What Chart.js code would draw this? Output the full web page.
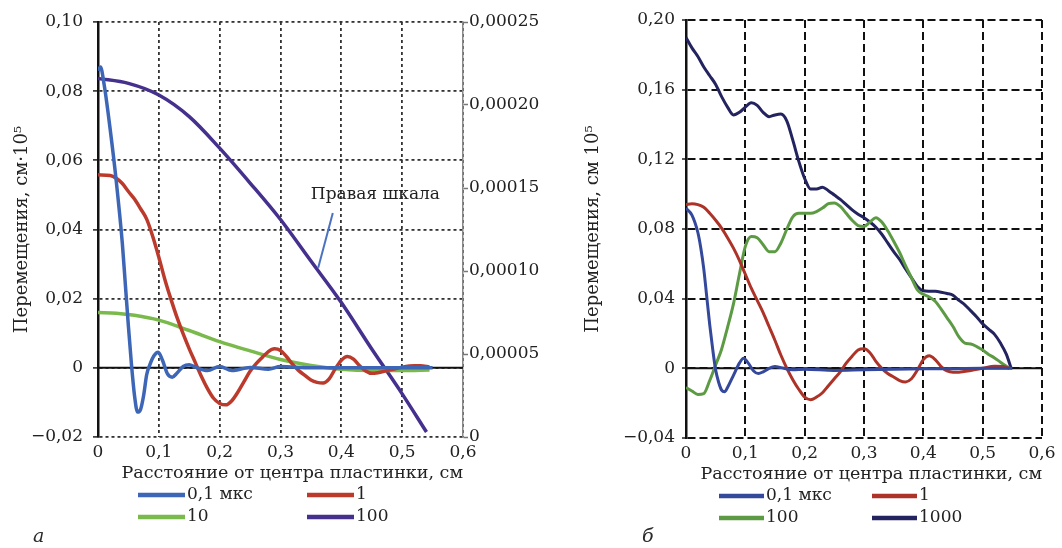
<!DOCTYPE html>
<html lang="ru">
<head>
<meta charset="utf-8">
<title>Перемещения</title>
<script src="https://cdn.jsdelivr.net/npm/chart.js@4.4.1/dist/chart.umd.min.js"></script>
<style>
  html, body { margin: 0; padding: 0; background: #fff; overflow: hidden; }
  #wrap { position: relative; width: 1062px; height: 548px; }
  canvas { position: absolute; top: 0; }
  #chartA { left: 0; }
  #chartB { left: 560px; }
  .tag { position: absolute; top: 524px; font: italic 19px 'DejaVu Serif', serif; color: #2a2a2a; }
</style>
</head>
<body>
<div id="wrap">
  <canvas id="chartA" width="540" height="548"></canvas>
  <canvas id="chartB" width="502" height="548"></canvas>
  <div class="tag" style="left:33px">а</div>
  <div class="tag" style="left:642px">б</div>
</div>
<script>
// ---------- shared text ----------
const xAxisTitle = 'Расстояние от центра пластинки, см';
const yTitleA = 'Перемещения, см·10⁵';
const yTitleB = 'Перемещения, см 10⁵';
const noteText = 'Правая шкала';

// ---------- panel а: displacement vs distance ----------
const labelsA = ['0,1 мкс', '1', '10', '100'];

const xA01 = [0, 0.004, 0.01, 0.02, 0.03, 0.04, 0.045, 0.05, 0.055, 0.06, 0.065, 0.07, 0.075, 0.08, 0.085, 0.092, 0.099, 0.106, 0.114, 0.122, 0.13, 0.14, 0.15, 0.16, 0.18, 0.2, 0.22, 0.25, 0.28, 0.3, 0.35, 0.4, 0.45, 0.5, 0.55];
const yA01 = [0.086, 0.087, 0.082, 0.069, 0.054, 0.036, 0.024, 0.012, 0.001, -0.008, -0.0128, -0.012, -0.008, -0.002, 0.0008, 0.0035, 0.0045, 0.0022, -0.0017, -0.0027, -0.0015, 0.0004, 0.0009, 0.0002, -0.0008, 0.0004, -0.0008, 0.0001, -0.0004, 0.0004, 0, 0, 0, 0, 0];

const xA1 = [0, 0.02, 0.03, 0.04, 0.05, 0.06, 0.07, 0.08, 0.09, 0.1, 0.11, 0.12, 0.13, 0.14, 0.15, 0.16, 0.17, 0.18, 0.19, 0.2, 0.21, 0.22, 0.23, 0.24, 0.25, 0.26, 0.27, 0.28, 0.29, 0.3, 0.31, 0.32, 0.33, 0.34, 0.35, 0.36, 0.37, 0.38, 0.39, 0.4, 0.41, 0.42, 0.43, 0.44, 0.45, 0.46, 0.48, 0.5, 0.52, 0.53, 0.545];
const yA1 = [0.0558, 0.0556, 0.0548, 0.0533, 0.051, 0.0488, 0.046, 0.043, 0.038, 0.032, 0.0255, 0.0198, 0.0145, 0.0098, 0.0055, 0.0015, -0.0025, -0.006, -0.0088, -0.0103, -0.0107, -0.0095, -0.007, -0.004, -0.001, 0.0012, 0.003, 0.0047, 0.0055, 0.005, 0.0032, 0.001, -0.0008, -0.0022, -0.0035, -0.0042, -0.0044, -0.0032, -0.0003, 0.0022, 0.0033, 0.0025, 0.0006, -0.0009, -0.0016, -0.0014, -0.0006, 0.0002, 0.0006, 0.0006, 0.0002];

const xA10 = [0, 0.03, 0.06, 0.1, 0.15, 0.2, 0.25, 0.3, 0.35, 0.4, 0.45, 0.5, 0.545];
const yA10 = [0.016, 0.0158, 0.0152, 0.0138, 0.0108, 0.0076, 0.0049, 0.0024, 0.0007, -0.0004, -0.0008, -0.0008, -0.0006];

// 100 мкс is plotted against the right-hand axis
const xA100 = [0, 0.05, 0.1, 0.15, 0.2, 0.25, 0.3, 0.35, 0.4, 0.45, 0.5, 0.54];
const yA100 = [0.000216, 0.000213, 0.000206, 0.000193, 0.000174, 0.000153, 0.000131, 0.000106, 0.000081, 0.000053, 0.000026, 0.000003];

// leader for the right-axis note, in (x, right-axis) units
const notePos = { x: 0.456, y: 0.000146 };
const noteLeader = [[0.386, 0.000135], [0.362, 0.000102]];

// ---------- panel б ----------
const labelsB = ['0,1 мкс', '1', '100', '1000'];

const xB01 = [0, 0.01, 0.02, 0.025, 0.03, 0.035, 0.04, 0.045, 0.05, 0.055, 0.06, 0.065, 0.07, 0.08, 0.09, 0.097, 0.105, 0.114, 0.122, 0.13, 0.14, 0.15, 0.16, 0.18, 0.2, 0.25, 0.3, 0.35, 0.4, 0.45, 0.5, 0.55];
const yB01 = [0.092, 0.088, 0.078, 0.069, 0.057, 0.041, 0.025, 0.011, -0.001, -0.008, -0.0125, -0.0135, -0.011, -0.004, 0.003, 0.0058, 0.003, -0.0015, -0.003, -0.002, 0, 0.001, 0.0004, -0.0008, -0.0005, -0.0012, -0.0008, -0.0005, -0.0003, -0.0002, 0, 0];

const xB1 = [0, 0.01, 0.02, 0.03, 0.04, 0.05, 0.06, 0.07, 0.08, 0.09, 0.1, 0.11, 0.12, 0.13, 0.14, 0.15, 0.16, 0.17, 0.18, 0.19, 0.2, 0.21, 0.22, 0.23, 0.24, 0.25, 0.26, 0.27, 0.28, 0.29, 0.3, 0.31, 0.32, 0.33, 0.34, 0.35, 0.36, 0.37, 0.38, 0.39, 0.4, 0.41, 0.42, 0.43, 0.44, 0.45, 0.46, 0.48, 0.5, 0.52, 0.535, 0.545];
const yB1 = [0.094, 0.0945, 0.094, 0.0925, 0.089, 0.085, 0.0805, 0.075, 0.069, 0.062, 0.054, 0.046, 0.039, 0.032, 0.024, 0.016, 0.0075, 0.0, -0.0065, -0.012, -0.0165, -0.018, -0.0165, -0.014, -0.010, -0.006, -0.002, 0.003, 0.007, 0.0105, 0.0112, 0.009, 0.004, 0.0, -0.003, -0.005, -0.007, -0.0078, -0.006, -0.001, 0.005, 0.0072, 0.005, 0.001, -0.0015, -0.0022, -0.0022, -0.0012, 0.0, 0.0012, 0.001, 0.0];

const xB100 = [0, 0.01, 0.02, 0.03, 0.04, 0.05, 0.06, 0.07, 0.08, 0.09, 0.1, 0.11, 0.12, 0.13, 0.14, 0.15, 0.16, 0.17, 0.18, 0.19, 0.2, 0.21, 0.22, 0.23, 0.24, 0.25, 0.26, 0.27, 0.28, 0.29, 0.3, 0.31, 0.32, 0.33, 0.34, 0.35, 0.36, 0.37, 0.38, 0.39, 0.4, 0.41, 0.42, 0.43, 0.44, 0.45, 0.46, 0.47, 0.48, 0.49, 0.5, 0.51, 0.52, 0.53, 0.545];
const yB100 = [-0.011, -0.013, -0.015, -0.0145, -0.007, 0.002, 0.011, 0.0235, 0.037, 0.054, 0.07, 0.0757, 0.075, 0.071, 0.067, 0.067, 0.072, 0.080, 0.087, 0.089, 0.089, 0.089, 0.090, 0.092, 0.0945, 0.095, 0.093, 0.089, 0.085, 0.082, 0.0815, 0.084, 0.0865, 0.084, 0.079, 0.073, 0.0665, 0.059, 0.052, 0.045, 0.0425, 0.041, 0.0385, 0.034, 0.029, 0.024, 0.018, 0.0145, 0.014, 0.0125, 0.0105, 0.008, 0.006, 0.0035, 0.0];

const xB1000 = [0, 0.01, 0.02, 0.03, 0.04, 0.05, 0.06, 0.07, 0.08, 0.09, 0.1, 0.11, 0.12, 0.13, 0.14, 0.15, 0.16, 0.17, 0.18, 0.19, 0.2, 0.21, 0.22, 0.23, 0.24, 0.25, 0.26, 0.27, 0.28, 0.29, 0.3, 0.31, 0.32, 0.33, 0.34, 0.35, 0.36, 0.37, 0.38, 0.39, 0.4, 0.41, 0.42, 0.43, 0.44, 0.45, 0.46, 0.47, 0.48, 0.49, 0.5, 0.51, 0.52, 0.53, 0.54, 0.548];
const yB1000 = [0.190, 0.184, 0.179, 0.173, 0.168, 0.163, 0.156, 0.150, 0.1455, 0.147, 0.150, 0.1525, 0.151, 0.147, 0.1445, 0.1455, 0.146, 0.142, 0.131, 0.119, 0.109, 0.103, 0.103, 0.104, 0.102, 0.0995, 0.097, 0.094, 0.091, 0.0885, 0.0865, 0.084, 0.081, 0.077, 0.072, 0.067, 0.0625, 0.057, 0.052, 0.047, 0.0445, 0.0443, 0.0442, 0.0437, 0.043, 0.042, 0.039, 0.0365, 0.033, 0.0295, 0.0255, 0.0225, 0.0195, 0.0145, 0.008, 0.0];

// ---------- helpers ----------
const textColor = '#222';
Chart.defaults.font.family = "'DejaVu Serif', serif";
Chart.defaults.color = textColor;

const points = (xs, ys) => xs.map((x, i) => ({ x, y: ys[i] }));
const decimalComma = digits => v => {
  if (Math.abs(v) < 1e-12) return '0';
  return (v < 0 ? '−' : '') + Math.abs(v).toFixed(digits).replace('.', ',');
};
const series = (label, xs, ys, color, width, axis) => ({
  label, data: points(xs, ys), borderColor: color, backgroundColor: color,
  borderWidth: width, pointRadius: 0, fill: false,
  cubicInterpolationMode: 'monotone', yAxisID: axis || 'y'
});

const tickFont = { size: 17 };
const titleFont = { size: 17.5 };

// solid zero line drawn under the curves
const zeroLine = {
  id: 'zeroLine',
  beforeDatasetsDraw(chart) {
    const { ctx, chartArea, scales } = chart;
    const y = scales.y.getPixelForValue(0);
    ctx.save();
    ctx.strokeStyle = '#111';
    ctx.lineWidth = 2;
    ctx.beginPath();
    ctx.moveTo(chartArea.left, y);
    ctx.lineTo(chartArea.right, y);
    ctx.stroke();
    ctx.restore();
  }
};

// two-column series key below the axis title
const seriesKey = {
  id: 'seriesKey',
  afterDraw(chart, args, opts) {
    const { ctx } = chart;
    ctx.save();
    ctx.font = "17px 'DejaVu Serif', serif";
    ctx.fillStyle = textColor;
    ctx.textBaseline = 'middle';
    chart.data.datasets.forEach((ds, i) => {
      const x0 = opts.cols[i % 2];
      const y = opts.rows[Math.floor(i / 2)];
      ctx.strokeStyle = ds.borderColor;
      ctx.lineWidth = 4.5;
      ctx.beginPath();
      ctx.moveTo(x0, y);
      ctx.lineTo(x0 + opts.sample, y);
      ctx.stroke();
      ctx.fillText(ds.label, x0 + opts.sample + 2, y);
    });
    ctx.restore();
  }
};

// "Правая шкала" note with its leader
const rightScaleNote = {
  id: 'rightScaleNote',
  afterDatasetsDraw(chart) {
    const { ctx, scales } = chart;
    const px = v => scales.x.getPixelForValue(v);
    const py = v => scales.y1.getPixelForValue(v);
    ctx.save();
    ctx.strokeStyle = '#4a72c0';
    ctx.lineWidth = 2;
    ctx.beginPath();
    ctx.moveTo(px(noteLeader[0][0]), py(noteLeader[0][1]));
    ctx.lineTo(px(noteLeader[1][0]), py(noteLeader[1][1]));
    ctx.stroke();
    ctx.font = "17px 'DejaVu Serif', serif";
    ctx.fillStyle = textColor;
    ctx.textAlign = 'center';
    ctx.textBaseline = 'middle';
    ctx.fillText(noteText, px(notePos.x), py(notePos.y));
    ctx.restore();
  }
};

// ---------- panel а ----------
new Chart(document.getElementById('chartA'), {
  type: 'line',
  data: {
    datasets: [
      series(labelsA[0], xA01, yA01, '#3d66b6', 3.5),
      series(labelsA[1], xA1, yA1, '#bb3a2c', 3.5),
      series(labelsA[2], xA10, yA10, '#7ab94c', 3.5),
      series(labelsA[3], xA100, yA100, '#45308e', 3.5, 'y1')
    ]
  },
  options: {
    responsive: false,
    animation: false,
    layout: { padding: { top: 22, bottom: 64, left: 0, right: 0 } },
    plugins: {
      legend: { display: false },
      tooltip: { enabled: false },
      seriesKey: { cols: [138, 307], rows: [495, 517], sample: 47 }
    },
    scales: {
      x: {
        type: 'linear', min: 0, max: 0.6,
        ticks: { stepSize: 0.1, font: tickFont, color: textColor, padding: 5, callback: decimalComma(1) },
        grid: { color: '#333', lineWidth: 1.8, drawTicks: false },
        border: { display: false, dash: [3, 3] },
        title: { display: true, text: xAxisTitle, align: 'end', font: titleFont, color: textColor, padding: { top: 0, bottom: 0 } },
        afterFit: s => { s.height = 47; }
      },
      y: {
        min: -0.02, max: 0.10,
        ticks: { stepSize: 0.02, font: tickFont, color: textColor, padding: 10, callback: decimalComma(2) },
        grid: { color: '#333', lineWidth: 1.8, drawTicks: true, tickLength: 5, tickColor: '#222', tickWidth: 1.5 },
        border: { display: true, color: '#111', width: 2.5, dash: [3, 3] },
        title: { display: true, text: yTitleA, font: { size: 18 }, color: textColor, padding: { top: 12, bottom: 0 } },
        afterFit: s => { s.width = 98; }
      },
      y1: {
        position: 'right', min: 0, max: 0.00025,
        ticks: { stepSize: 0.00005, font: tickFont, color: textColor, padding: 1, callback: decimalComma(5) },
        grid: { drawOnChartArea: false, drawTicks: true, tickLength: 5, tickColor: '#777', tickWidth: 1.5 },
        border: { display: true, color: '#888', width: 1.5 },
        afterFit: s => { s.width = 77; }
      }
    }
  },
  plugins: [zeroLine, seriesKey, rightScaleNote]
});

// ---------- panel б ----------
new Chart(document.getElementById('chartB'), {
  type: 'line',
  data: {
    datasets: [
      series(labelsB[0], xB01, yB01, '#34489c', 3),
      series(labelsB[1], xB1, yB1, '#ad3328', 3),
      series(labelsB[2], xB100, yB100, '#5c9b44', 3),
      series(labelsB[3], xB1000, yB1000, '#23235f', 3)
    ]
  },
  options: {
    responsive: false,
    animation: false,
    layout: { padding: { top: 20, bottom: 63, left: 0, right: 20 } },
    plugins: {
      legend: { display: false },
      tooltip: { enabled: false },
      seriesKey: { cols: [159, 312], rows: [496, 518], sample: 45 }
    },
    scales: {
      x: {
        type: 'linear', min: 0, max: 0.6,
        ticks: { stepSize: 0.1, font: tickFont, color: textColor, padding: 5, callback: decimalComma(1) },
        grid: { color: '#111', lineWidth: 2, drawTicks: false },
        border: { display: false, dash: [8, 4] },
        title: { display: true, text: xAxisTitle, align: 'end', font: titleFont, color: textColor, padding: { top: 0, bottom: 0 } },
        afterFit: s => { s.height = 47; }
      },
      y: {
        min: -0.04, max: 0.20,
        ticks: { stepSize: 0.04, font: tickFont, color: textColor, padding: 7, callback: decimalComma(2) },
        grid: { color: '#111', lineWidth: 2, drawTicks: true, tickLength: 4, tickColor: '#222', tickWidth: 1.5 },
        border: { display: true, color: '#111', width: 2.5, dash: [8, 4] },
        title: { display: true, text: yTitleB, font: { size: 18 }, color: textColor, padding: { top: 23, bottom: 0 } },
        afterFit: s => { s.width = 126; }
      }
    }
  },
  plugins: [zeroLine, seriesKey]
});
</script>
</body>
</html>
